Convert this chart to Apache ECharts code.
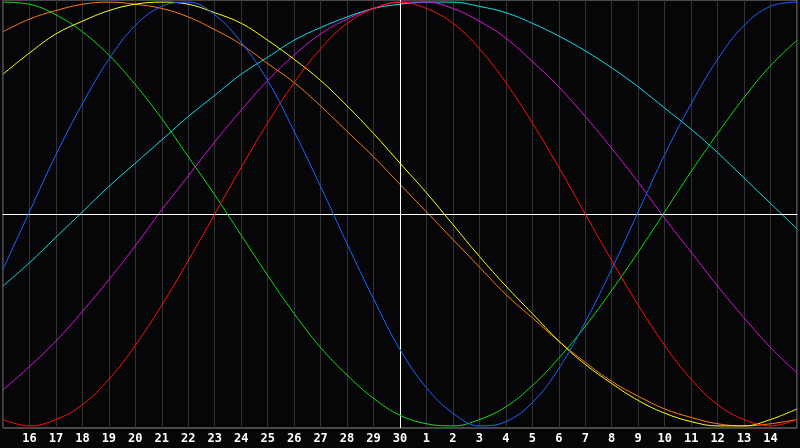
<!DOCTYPE html>
<html>
<head>
<meta charset="utf-8">
<script src="https://cdn.jsdelivr.net/npm/echarts@6/dist/echarts.min.js"></script>
<style>
html,body{margin:0;padding:0;background:#060609;}
#chart{width:800px;height:448px;}
</style>
</head>
<body>
<div id="chart"></div>
<script>
var days = ['15','16','17','18','19','20','21','22','23','24','25','26','27','28','29','30',
            '1','2','3','4','5','6','7','8','9','10','11','12','13','14','15'];

var physical = [-0.26,0.01,0.28,0.52,0.73,0.89,0.98,1.00,0.94,0.81,0.63,0.39,0.13,-0.14,-0.40,-0.64,
                -0.82,-0.94,-1.00,-0.98,-0.89,-0.73,-0.51,-0.26,0.01,0.28,0.52,0.73,0.89,0.98,1.00];
var emotional = [-0.97,-1.00,-0.97,-0.90,-0.78,-0.62,-0.43,-0.22,0.00,0.22,0.43,0.62,0.78,0.90,0.97,1.00,
                 0.97,0.90,0.78,0.62,0.43,0.22,0.00,-0.22,-0.43,-0.62,-0.78,-0.90,-0.97,-1.00,-0.97];
var intellectual = [1.00,0.99,0.94,0.86,0.75,0.61,0.45,0.27,0.09,-0.10,-0.29,-0.47,-0.63,-0.76,-0.87,-0.95,
                    -0.99,-1.00,-0.97,-0.91,-0.81,-0.68,-0.53,-0.36,-0.18,0.01,0.20,0.38,0.55,0.70,0.82];
var spiritual = [-0.34,-0.23,-0.11,0.01,0.13,0.24,0.35,0.46,0.56,0.66,0.74,0.82,0.88,0.93,0.97,0.99,
                 1.00,1.00,0.98,0.95,0.90,0.84,0.77,0.69,0.60,0.50,0.40,0.29,0.17,0.05,-0.07];
var intuitive = [-0.83,-0.72,-0.60,-0.46,-0.31,-0.15,0.02,0.18,0.34,0.49,0.63,0.75,0.85,0.92,0.97,1.00,
                 1.00,0.97,0.91,0.83,0.72,0.60,0.46,0.31,0.15,-0.02,-0.18,-0.34,-0.49,-0.63,-0.75];
var aesthetic = [0.66,0.76,0.85,0.91,0.96,0.99,1.00,0.99,0.95,0.90,0.82,0.73,0.63,0.51,0.38,0.24,
                 0.10,-0.05,-0.20,-0.34,-0.47,-0.60,-0.71,-0.80,-0.88,-0.94,-0.98,-1.00,-1.00,-0.97,-0.92];
var awareness = [0.86,0.92,0.96,0.99,1.00,0.99,0.97,0.93,0.87,0.80,0.71,0.62,0.51,0.39,0.27,0.14,
                 0.01,-0.12,-0.25,-0.38,-0.49,-0.60,-0.70,-0.79,-0.86,-0.92,-0.96,-0.99,-1.00,-0.99,-0.97];

var chart = echarts.init(document.getElementById('chart'), null, {renderer:'canvas'});

function curve(name, data, color, z) {
  return {
    name: name, type: 'line', data: data, smooth: 0.4, symbol: 'none', z: z,
    lineStyle: {color: color, width: 1}, silent: true, animation: false
  };
}

var option = {
  backgroundColor: '#060609',
  animation: false,
  grid: {left: 0, right: -1, top: 0, bottom: 20, show: true, borderColor: '#8a8a8a', borderWidth: 1, backgroundColor: 'transparent'},
  xAxis: {
    type: 'category', data: days, boundaryGap: false,
    axisLine: {show: true, lineStyle: {color: '#9a9a9a', width: 1}},
    axisTick: {show: false},
    axisLabel: {
      interval: 0, color: '#ffffff', fontSize: 12, fontWeight: 'bold',
      fontFamily: 'DejaVu Sans Mono', margin: 5,
      formatter: function (v, i) { return (i === 0 || i === days.length - 1) ? '' : v; }
    },
    splitLine: {show: true, lineStyle: {color: '#323234', width: 1}}
  },
  yAxis: {
    type: 'value', min: -1.01, max: 1.01,
    axisLine: {show: false}, axisTick: {show: false}, axisLabel: {show: false},
    splitLine: {show: false}
  },
  series: [
    {
      type: 'line', data: [], z: 1, silent: true,
      markLine: {
        silent: true, symbol: ['none','none'], label: {show: false}, animation: false,
        lineStyle: {color: '#ffffff', width: 1, type: 'solid'},
        data: [{yAxis: 0}, {xAxis: 15}]
      }
    },
    curve('Spiritual', spiritual, '#10e0e0', 2),
    curve('Intuitive', intuitive, '#e010e0', 3),
    curve('Awareness', awareness, '#ff7a10', 4),
    curve('Aesthetic', aesthetic, '#ffff10', 5),
    curve('Intellectual', intellectual, '#10e010', 6),
    curve('Emotional', emotional, '#ff1010', 7),
    curve('Physical', physical, '#1a66ff', 8)
  ]
};
chart.setOption(option);
</script>
</body>
</html>
